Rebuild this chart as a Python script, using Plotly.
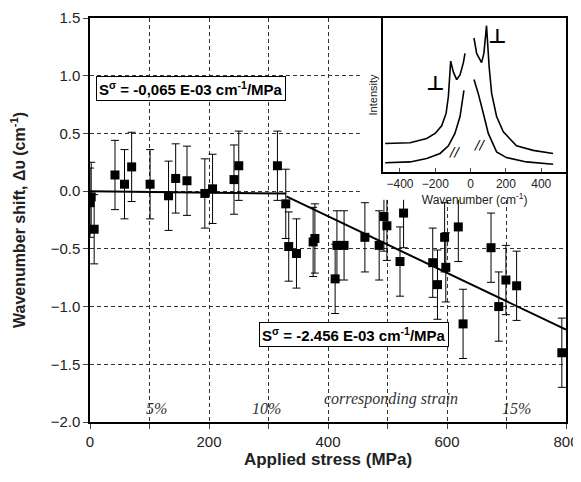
import plotly.graph_objects as go

# main data: Raman wavenumber shift vs applied stress
stress = [0, 2, 7, 42, 58, 70, 101, 132, 144, 163, 193, 206, 242, 250, 315, 329,
          334, 347, 375, 378, 412, 415, 427, 462, 486, 494, 499, 521, 527, 576,
          584, 596, 598, 619, 627, 674, 687, 699, 717, 793]
shift = [-0.10, -0.05, -0.33, 0.14, 0.06, 0.21, 0.06, -0.04, 0.11, 0.09, -0.02, 0.02,
         0.10, 0.22, 0.22, -0.11, -0.48, -0.54, -0.44, -0.41, -0.76, -0.47, -0.47,
         -0.40, -0.47, -0.22, -0.30, -0.61, -0.19, -0.62, -0.81, -0.40, -0.66, -0.31,
         -1.15, -0.49, -1.00, -0.77, -0.82, -1.40]
err = [0.30] * len(stress)

# linear fits (intercept, slope per MPa, x range)
fit1 = (0.0, -0.065e-3, 0, 330)
fit2 = (0.765, -2.456e-3, 330, 800)

strain_labels = ["<i>5%</i>", "<i>10%</i>", "<i>corresponding strain</i>", "<i>15%</i>"]
strain_x = [111, 297, 506, 716]
strain_y = [-1.88, -1.88, -1.80, -1.88]

# inset spectra (wavenumber cm-1, intensity a.u.), gap at the notch filter
wn_perp = [-484, -343, -249, -201, -164, -139, -126, -113, -98, -79, -60, -41, -32,
           None, 19, 34, 62, 75, 90, 105, 119, 147, 185, 260, 354, 467]
int_perp = [0.185, 0.19, 0.217, 0.25, 0.30, 0.38, 0.49, 0.72, 0.65, 0.60, 0.63, 0.71, 0.77,
            None, 0.87, 0.77, 0.71, 0.77, 0.95, 0.68, 0.51, 0.36, 0.26, 0.17, 0.14, 0.12]
wn_par = [-484, -343, -249, -173, -126, -89, -60, -45, -38,
          None, 19, 43, 72, 100, 147, 203, 316, 467]
int_par = [0.06, 0.065, 0.087, 0.12, 0.17, 0.25, 0.36, 0.47, 0.53,
           None, 0.60, 0.51, 0.38, 0.25, 0.13, 0.093, 0.065, 0.05]

font = "Liberation Sans, Arial, sans-serif"

fig = go.Figure()

fig.add_trace(go.Scatter(
    x=stress, y=shift, mode="markers",
    marker=dict(symbol="square", size=9, color="black"),
    error_y=dict(type="data", array=err, color="black", thickness=1, width=4),
    showlegend=False, hoverinfo="skip"))

for a, b, x0, x1 in (fit1, fit2):
    fig.add_trace(go.Scatter(
        x=[x0, x1], y=[a + b * x0, a + b * x1], mode="lines",
        line=dict(color="black", width=2), showlegend=False, hoverinfo="skip"))

# blank white panel behind the inset (x2/y2)
fig.add_trace(go.Scatter(x=[], y=[], xaxis="x2", yaxis="y2", showlegend=False))

fig.add_trace(go.Scatter(x=wn_perp, y=int_perp, xaxis="x3", yaxis="y3", mode="lines",
                         line=dict(color="black", width=1.6), showlegend=False))
fig.add_trace(go.Scatter(x=wn_par, y=int_par, xaxis="x3", yaxis="y3", mode="lines",
                         line=dict(color="black", width=1.6), showlegend=False))

grid = dict(showgrid=True, gridcolor="#333", gridwidth=1, griddash="4px,3px")

# page adds an 8px body margin, so the figure is a bit smaller than the window
fig.update_layout(
    width=573, height=474,
    margin=dict(l=82, r=15, t=10, b=60),
    paper_bgcolor="white", plot_bgcolor="white",
    font=dict(family=font, color="#222"),
    xaxis=dict(range=[0, 800], dtick=200, ticks="outside", ticklen=5, automargin=False,
               showline=True, mirror=True, linecolor="black", linewidth=1.5,
               zeroline=False, tickfont=dict(size=15),
               minor=dict(dtick=100, ticks="outside", ticklen=5, **grid),
               title=dict(text="<b>Applied stress (MPa)</b>", font=dict(size=17), standoff=4),
               **grid),
    yaxis=dict(range=[-2, 1.5], dtick=0.5, tickformat=".1f", ticks="outside", ticklen=5,
               showline=True, mirror=True, linecolor="black", linewidth=1.5,
               zeroline=False, tickfont=dict(size=15), automargin=False,
               title=dict(text="<b>Wavenumber shift, Δυ (cm<sup>-1</sup>)</b>",
                          font=dict(size=16), standoff=26),
               **grid),
    xaxis2=dict(domain=[0.567, 1.0], anchor="y2", visible=False, range=[0, 1]),
    yaxis2=dict(domain=[0.55, 1.0], anchor="x2", visible=False, range=[0, 1]),
    xaxis3=dict(domain=[0.616, 1.0], anchor="y3", range=[-495, 540], dtick=200,
                ticks="inside", ticklen=4, showline=True, mirror=True, automargin=False,
                linecolor="black", linewidth=1.5, showgrid=False, zeroline=False,
                tickfont=dict(size=12),
                title=dict(text="Wavenumber (cm<sup>-1</sup>)", font=dict(size=12), standoff=2)),
    yaxis3=dict(domain=[0.619, 1.0], anchor="x3", range=[0, 1.0], showticklabels=False,
                ticks="", showline=True, mirror=True, linecolor="black", linewidth=1.5,
                showgrid=False, zeroline=False, automargin=False,
                title=dict(text="Intensity", font=dict(size=11), standoff=2)),
)

box = dict(showarrow=False, bgcolor="white", bordercolor="black", borderwidth=1,
           borderpad=2, font=dict(size=15, color="black"), xref="x", yref="y")
fig.add_annotation(x=170, y=0.89, text="<b>S<sup>σ</sup> = -0,065 E-03 cm<sup>-1</sup>/MPa</b>", **box)
fig.add_annotation(x=443, y=-1.24, text="<b>S<sup>σ</sup> = -2.456 E-03 cm<sup>-1</sup>/MPa</b>", **box)

for t, x, y in zip(strain_labels, strain_x, strain_y):
    fig.add_annotation(x=x, y=y, text=t, showarrow=False, xref="x", yref="y",
                       font=dict(family="Liberation Serif, Times New Roman, serif",
                                 size=16, color="#333"))

for t, x, y, s in [("<b>⊥</b>", -201, 0.58, 20), ("<b>⊥</b>", 147, 0.88, 20),
                   ("<i>//</i>", -89, 0.13, 13), ("<i>//</i>", 53, 0.18, 13)]:
    fig.add_annotation(x=x, y=y, text=t, showarrow=False, xref="x3", yref="y3",
                       font=dict(family="DejaVu Sans", size=s, color="black"))

fig.write_html("out.html")
